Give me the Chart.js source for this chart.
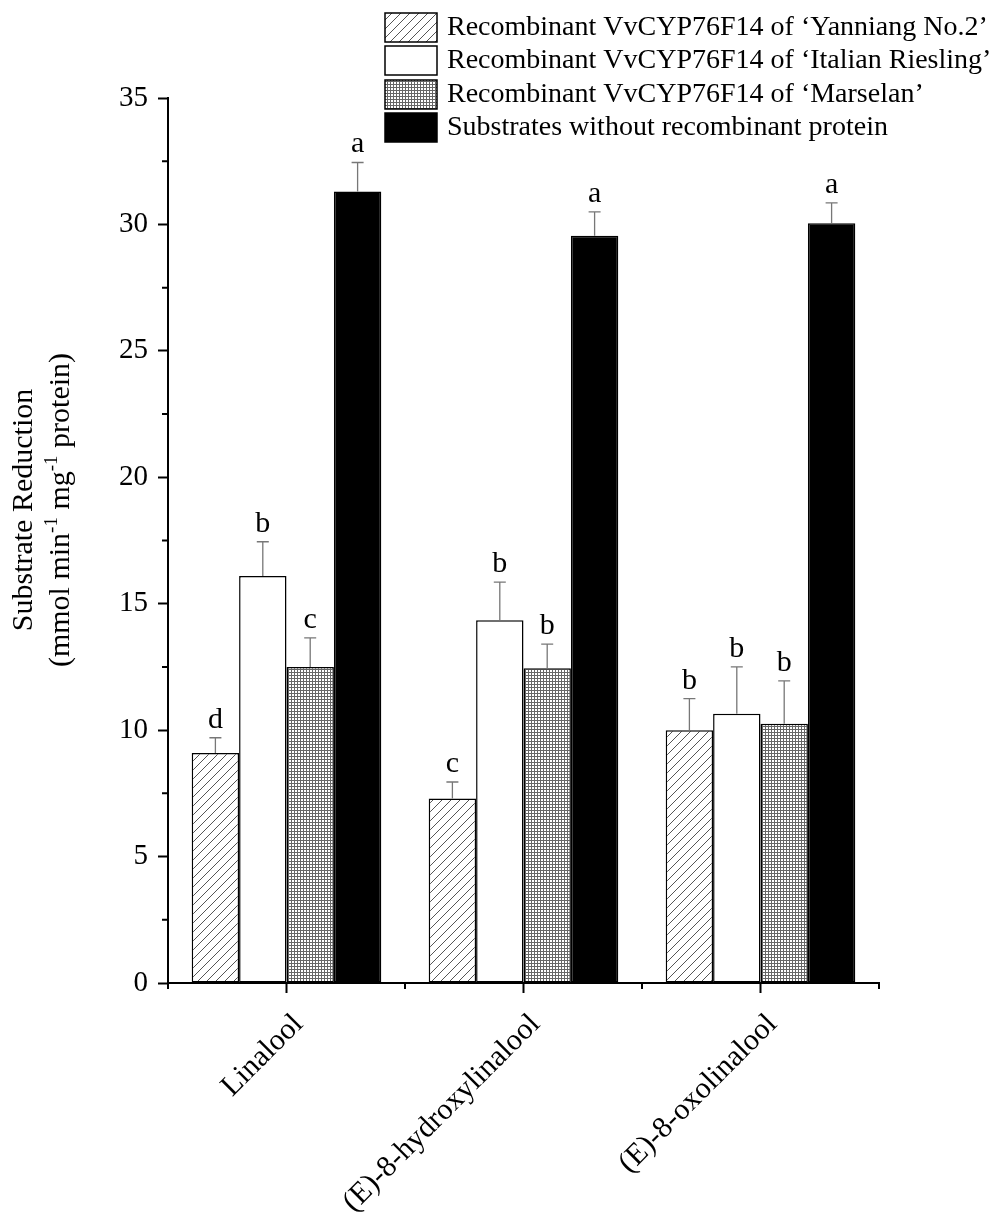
<!DOCTYPE html>
<html>
<head>
<meta charset="utf-8">
<script src="https://cdn.jsdelivr.net/npm/chart.js@4.4.1/dist/chart.umd.min.js"></script>
<style>
  html, body { margin: 0; padding: 0; background: #fff; }
</style>
</head>
<body>
<canvas id="chart" width="999" height="1213"></canvas>
<script>
// 데이터
const categories = ['Linalool', '(E)-8-hydroxylinalool', '(E)-8-oxolinalool'];
const seriesNames = [
  'Recombinant VvCYP76F14 of \u2018Yanniang No.2\u2019',
  'Recombinant VvCYP76F14 of \u2018Italian Riesling\u2019',
  'Recombinant VvCYP76F14 of \u2018Marselan\u2019',
  'Substrates without recombinant protein'
];
const yanniang = [9.1, 7.3, 10.0];
const yanniangErr = [0.6, 0.65, 1.25];
const yanniangLetters = ['d', 'c', 'b'];
const riesling = [16.1, 14.35, 10.65];
const rieslingErr = [1.35, 1.5, 1.85];
const rieslingLetters = ['b', 'b', 'b'];
const marselan = [12.5, 12.45, 10.25];
const marselanErr = [1.15, 0.95, 1.7];
const marselanLetters = ['c', 'b', 'b'];
const control = [31.3, 29.55, 30.05];
const controlErr = [1.15, 0.95, 0.8];
const controlLetters = ['a', 'a', 'a'];
const yMin = 0, yMax = 35, yStep = 5;

// 빗금 패턴
function hatchPattern() {
  const c = document.createElement('canvas');
  c.width = 9; c.height = 9;
  const g = c.getContext('2d');
  g.fillStyle = '#fff';
  g.fillRect(0, 0, 9, 9);
  g.strokeStyle = '#555';
  g.lineWidth = 1;
  g.beginPath();
  g.moveTo(0, 9); g.lineTo(9, 0);
  g.moveTo(-1, 1); g.lineTo(1, -1);
  g.moveTo(8, 10); g.lineTo(10, 8);
  g.stroke();
  return g.createPattern(c, 'repeat');
}

// 격자 패턴
function gridPattern() {
  const c = document.createElement('canvas');
  c.width = 3; c.height = 3;
  const g = c.getContext('2d');
  g.fillStyle = '#fff';
  g.fillRect(0, 0, 3, 3);
  g.fillStyle = '#666';
  g.fillRect(0, 0, 3, 1);
  g.fillRect(0, 0, 1, 3);
  return g.createPattern(c, 'repeat');
}

const serif = '"Liberation Serif", "Times New Roman", serif';

// 에러바 + 문자 표시
const errorBarPlugin = {
  id: 'errorBars',
  afterDatasetsDraw(chart) {
    const ctx = chart.ctx;
    const yScale = chart.scales.y;
    chart.data.datasets.forEach((ds, i) => {
      const meta = chart.getDatasetMeta(i);
      meta.data.forEach((bar, j) => {
        const v = ds.data[j];
        const yTop = yScale.getPixelForValue(v + ds.errors[j]);
        ctx.save();
        ctx.strokeStyle = '#777';
        ctx.lineWidth = 1.3;
        ctx.beginPath();
        ctx.moveTo(bar.x, bar.y);
        ctx.lineTo(bar.x, yTop);
        ctx.moveTo(bar.x - 6, yTop);
        ctx.lineTo(bar.x + 6, yTop);
        ctx.stroke();
        ctx.fillStyle = '#000';
        ctx.font = '30px ' + serif;
        ctx.textAlign = 'center';
        ctx.textBaseline = 'alphabetic';
        ctx.fillText(ds.letters[j], bar.x, yTop - 10);
        ctx.restore();
      });
    });
  }
};

// 보조 눈금, 범례, y축 제목
const decorPlugin = {
  id: 'decor',
  afterDraw(chart) {
    const ctx = chart.ctx;
    const x = chart.scales.x, y = chart.scales.y;
    const area = chart.chartArea;
    ctx.save();
    ctx.strokeStyle = '#000';
    ctx.lineWidth = 2;
    ctx.beginPath();
    for (let v = yMin + yStep / 2; v < yMax; v += yStep) {
      const py = y.getPixelForValue(v);
      ctx.moveTo(area.left - 6, py);
      ctx.lineTo(area.left, py);
    }
    const n = categories.length;
    const w = (x.getPixelForValue(1) - x.getPixelForValue(0));
    for (let i = 0; i <= n; i++) {
      const px = x.getPixelForValue(0) - w / 2 + i * w;
      ctx.moveTo(px, area.bottom);
      ctx.lineTo(px, area.bottom + 6);
    }
    ctx.stroke();

    // 범례
    const rowTop = [13, 46, 80, 113];
    chart.data.datasets.forEach((ds, i) => {
      ctx.fillStyle = ds.backgroundColor;
      ctx.fillRect(385, rowTop[i], 52, 29);
      ctx.lineWidth = 1.5;
      ctx.strokeStyle = '#000';
      ctx.strokeRect(385, rowTop[i], 52, 29);
      ctx.fillStyle = '#000';
      ctx.font = '28px ' + serif;
      ctx.textAlign = 'left';
      ctx.textBaseline = 'middle';
      ctx.fillText(ds.label, 447, rowTop[i] + 15);
    });

    // y축 제목
    ctx.translate(0, 510);
    ctx.rotate(-Math.PI / 2);
    ctx.fillStyle = '#000';
    ctx.textBaseline = 'alphabetic';
    ctx.font = '30px ' + serif;
    ctx.textAlign = 'center';
    ctx.fillText('Substrate Reduction', 0, 32);
    const parts = [['(mmol min', 0], ['-1', 1], [' mg', 0], ['-1', 1], [' protein)', 0]];
    let total = 0;
    parts.forEach(p => {
      ctx.font = (p[1] ? '19px ' : '30px ') + serif;
      total += ctx.measureText(p[0]).width;
    });
    let cx = -total / 2;
    ctx.textAlign = 'left';
    parts.forEach(p => {
      ctx.font = (p[1] ? '19px ' : '30px ') + serif;
      ctx.fillText(p[0], cx, p[1] ? 69 - 12 : 69);
      cx += ctx.measureText(p[0]).width;
    });
    ctx.restore();
  }
};

const ctx = document.getElementById('chart');
new Chart(ctx, {
  type: 'bar',
  data: {
    labels: categories,
    datasets: [
      { label: seriesNames[0], data: yanniang, errors: yanniangErr, letters: yanniangLetters, backgroundColor: hatchPattern() },
      { label: seriesNames[1], data: riesling, errors: rieslingErr, letters: rieslingLetters, backgroundColor: '#fff' },
      { label: seriesNames[2], data: marselan, errors: marselanErr, letters: marselanLetters, backgroundColor: gridPattern() },
      { label: seriesNames[3], data: control, errors: controlErr, letters: controlLetters, backgroundColor: '#000' }
    ].map(ds => Object.assign(ds, {
      borderColor: '#000',
      borderWidth: 1.5,
      borderSkipped: false,
      categoryPercentage: 0.8,
      barPercentage: 1.0
    }))
  },
  options: {
    responsive: false,
    animation: false,
    devicePixelRatio: 1,
    layout: { padding: { top: 98, right: 120, left: 0, bottom: 0 } },
    plugins: { legend: { display: false }, tooltip: { enabled: false } },
    scales: {
      x: {
        offset: true,
        grid: { offset: false, drawOnChartArea: false, drawTicks: true, tickLength: 10, tickWidth: 2, tickColor: '#000' },
        border: { color: '#000', width: 2 },
        ticks: { maxRotation: 45, minRotation: 45, color: '#000', font: { family: serif, size: 30 }, padding: 14, labelOffset: 12 },
        afterFit(s) { s.height = 230; }
      },
      y: {
        min: yMin,
        max: yMax,
        grid: { drawOnChartArea: false, drawTicks: true, tickLength: 10, tickWidth: 2, tickColor: '#000' },
        border: { color: '#000', width: 2 },
        ticks: { stepSize: yStep, color: '#000', font: { family: serif, size: 29 }, padding: 10 },
        afterFit(s) { s.width = 168; }
      }
    }
  },
  plugins: [errorBarPlugin, decorPlugin]
});
</script>
</body>
</html>
